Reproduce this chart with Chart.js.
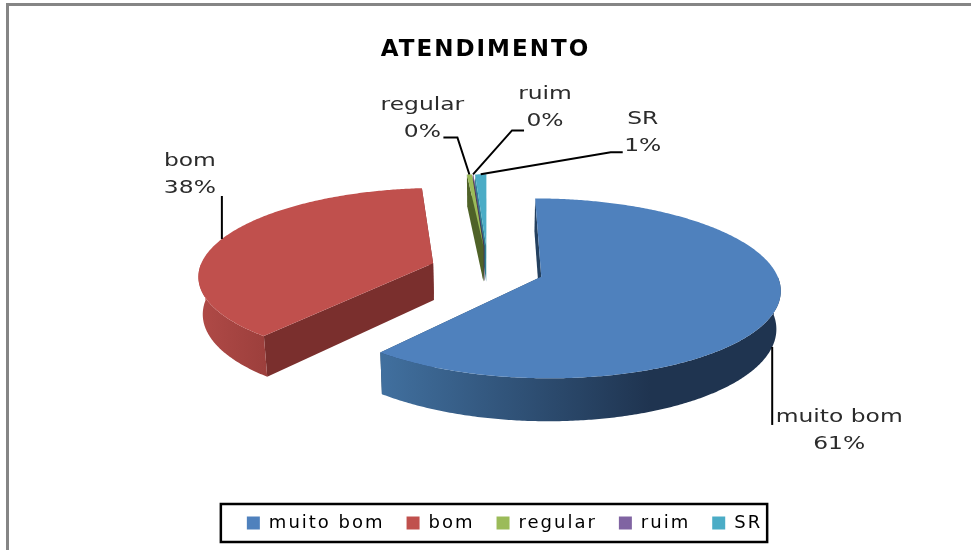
<!DOCTYPE html>
<html>
<head>
<meta charset="utf-8">
<style>
  html, body { margin: 0; padding: 0; background: #fff; overflow: hidden; }
  #frame { position: absolute; left: 6px; top: 3px; right: -10px; bottom: -10px; border: 3px solid #858585; }
  #pie { position: absolute; left: 0; top: 0; }
</style>
<script src="https://cdn.jsdelivr.net/npm/chart.js@4/dist/chart.umd.min.js"></script>
</head>
<body>
<div id="frame"></div>
<canvas id="pie" width="971" height="550"></canvas>
<script>
const categories = ['muito bom', 'bom', 'regular', 'ruim', 'SR'];
const percentages = [60.95, 37.7, 0.4, 0.05, 0.9];
const explode = [56, 58, 66, 66, 66];

const topColors = ['#4f81bd', '#c0504d', '#9bbb59', '#8064a2', '#4bacc6'];
const cutColors = ['#24405f', '#7a2f2d', '#4f6228', '#403152', '#2f7f94'];
const wallFrom = ['#41709f', '#b04a47', '#4f6228', '#403152', '#2f7f94'];
const wallTo = ['#1f3450', '#9c3f3c', '#4f6228', '#403152', '#2f7f94'];

// callout layout, relative to the point on the slice rim
const calloutLines = [
    [[0, 78]],
    [[0, -43]],
    [[-12, -37], [-26, -37]],
    [[39, -44], [51, -44]],
    [[130, -22], [142, -22]]
];
const calloutText = [[67, 70], [-32, -78], [-47, -69], [72, -80], [162, -55]];

// fake 3D camera
const view = { cx: 488, cy: 269.6, tilt: 0.37, persp: 0.00055, depth: 37, shrink: 0.985 };
const legendPadLeft = 38;

function project(u, v, low) {
    const s = 1 / (1 - view.persp * v);
    const k = low ? view.shrink : 1;
    return {
        x: view.cx + u * s * k,
        y: view.cy + view.tilt * v * s + (low ? view.depth * s : 0)
    };
}

function trace(ctx, pts) {
    ctx.beginPath();
    pts.forEach((p, i) => i ? ctx.lineTo(p.x, p.y) : ctx.moveTo(p.x, p.y));
    ctx.closePath();
}

function sliceGeometry(arc) {
    const start = arc.startAngle + Math.PI / 2;
    const end = arc.endAngle + Math.PI / 2;
    const mid = (start + end) / 2;
    const off = arc.options.offset;
    const ox = off * Math.sin(mid);
    const oy = -off * Math.cos(mid);
    const rim = th => ({ u: ox + arc.outerRadius * Math.sin(th), v: oy - arc.outerRadius * Math.cos(th), th });
    const samples = [];
    const steps = Math.max(2, Math.ceil((end - start) / 0.01));
    for (let i = 0; i <= steps; i++) samples.push(rim(start + (end - start) * i / steps));
    return { start, end, mid, ox, oy, rim, samples };
}

const pie3d = {
    id: 'pie3d',
    beforeLayout(chart) {
        chart.ctx.letterSpacing = '2px';
    },
    afterLayout(chart) {
        // left padding is only there to push the legend over, keep the title centred
        chart.titleBlock.left -= legendPadLeft / 2;
        chart.titleBlock.right -= legendPadLeft / 2;
    },
    beforeDraw(chart) {
        chart.ctx.letterSpacing = '2px';
    },
    beforeDatasetDraw(chart, args) {
        const ctx = chart.ctx;
        const arcs = args.meta.data;
        for (let i = arcs.length - 1; i >= 0; i--) {
            const g = sliceGeometry(arcs[i]);
            const first = g.samples[0];
            const last = g.samples[g.samples.length - 1];

            // cut faces
            ctx.fillStyle = cutColors[i];
            [first, last].forEach(p => {
                trace(ctx, [project(g.ox, g.oy), project(p.u, p.v),
                    project(p.u, p.v, true), project(g.ox, g.oy, true)]);
                ctx.fill();
            });

            // outer wall, only the part that faces the viewer
            const front = g.samples.filter(p => Math.cos(p.th) < 0);
            if (front.length > 1) {
                const upper = front.map(p => project(p.u, p.v));
                const lower = front.map(p => project(p.u, p.v, true)).reverse();
                const xs = upper.concat(lower).map(p => p.x);
                const minX = Math.min(...xs);
                const grad = ctx.createLinearGradient(minX, 0, Math.min(minX + 270, Math.max(...xs)), 0);
                grad.addColorStop(0, wallFrom[i]);
                grad.addColorStop(1, wallTo[i]);
                ctx.fillStyle = grad;
                trace(ctx, upper.concat(lower));
                ctx.fill();
            }

            // top face
            ctx.fillStyle = topColors[i];
            trace(ctx, [project(g.ox, g.oy)].concat(g.samples.map(p => project(p.u, p.v))));
            ctx.fill();
        }
        return false;
    },
    afterDraw(chart) {
        const ctx = chart.ctx;
        const arcs = chart.getDatasetMeta(0).data;
        ctx.save();
        ctx.letterSpacing = '0px';
        ctx.font = '18px "DejaVu Sans"';
        ctx.textAlign = 'center';
        ctx.textBaseline = 'middle';
        arcs.forEach((arc, i) => {
            const g = sliceGeometry(arc);
            const p = g.rim(g.mid);
            const anchor = project(p.u, p.v, Math.cos(g.mid) < 0);

            ctx.strokeStyle = '#000';
            ctx.lineWidth = 2;
            ctx.beginPath();
            ctx.moveTo(anchor.x, anchor.y);
            calloutLines[i].forEach(d => ctx.lineTo(anchor.x + d[0], anchor.y + d[1]));
            ctx.stroke();

            // the reference text is stretched sideways
            ctx.fillStyle = '#2b2b2b';
            const tx = anchor.x + calloutText[i][0];
            const ty = anchor.y + calloutText[i][1];
            ctx.save();
            ctx.translate(tx, ty);
            ctx.scale(1.3, 1);
            ctx.fillText(categories[i], 0, 0);
            ctx.fillText(Math.round(percentages[i]) + '%', 0, 27);
            ctx.restore();
        });

        // legend box
        const boxes = chart.legend.legendHitBoxes;
        const left = boxes[0].left - 26;
        const right = boxes[boxes.length - 1].left + boxes[boxes.length - 1].width + 5;
        const midY = boxes[0].top + boxes[0].height / 2;
        ctx.lineWidth = 2.5;
        ctx.strokeRect(left, midY - 19, right - left, 38);
        ctx.restore();
    }
};

new Chart(document.getElementById('pie'), {
    type: 'pie',
    plugins: [pie3d],
    data: {
        labels: categories,
        datasets: [{
            data: percentages,
            backgroundColor: topColors,
            borderWidth: 0,
            offset: explode,
            radius: 234,
            clip: false
        }]
    },
    options: {
        responsive: false,
        animation: false,
        layout: { padding: { left: legendPadLeft, bottom: 8 } },
        plugins: {
            tooltip: { enabled: false },
            title: {
                display: true,
                text: 'ATENDIMENTO',
                color: '#000',
                font: { family: '"DejaVu Sans"', size: 23, weight: 'bold' },
                padding: { top: 36, bottom: 10 }
            },
            legend: {
                position: 'bottom',
                labels: {
                    color: '#000',
                    boxWidth: 13,
                    boxHeight: 13,
                    padding: 22,
                    font: { family: '"DejaVu Sans"', size: 18 }
                }
            }
        }
    }
});
</script>
</body>
</html>
